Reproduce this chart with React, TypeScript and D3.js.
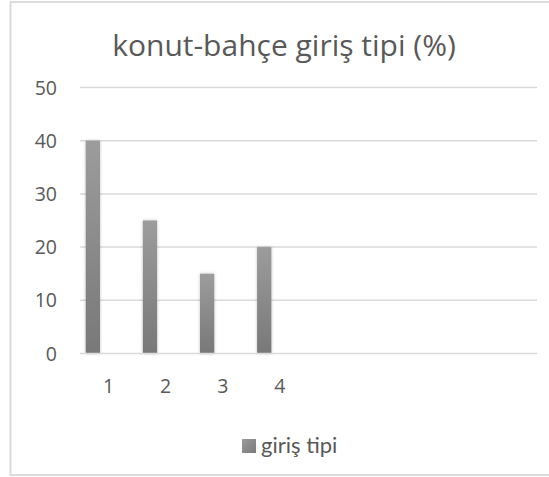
import React, { useEffect, useRef } from 'react';
import * as d3 from 'd3';

// chart data
const categories = ['1', '2', '3', '4', '5', '6', '7', '8'];
const tickLabels = ['1', '2', '3', '4', '', '', '', ''];
const values = [40, 25, 15, 20, null, null, null, null];
const seriesName = 'giriş tipi';
const yTicks = [0, 10, 20, 30, 40, 50];
const title = 'konut-bahçe giriş tipi (%)';

const App = () => {
  const svgRef = useRef<SVGSVGElement>(null);

  useEffect(() => {
    const W = 549;
    const H = 477;
    const plot = { left: 80, right: 537, top: 87.5, bottom: 353.5 };
    const font = "'Open Sans', 'Noto Sans', sans-serif";

    const svg = d3.select(svgRef.current);
    svg.selectAll('*').remove();
    svg.attr('width', W).attr('height', H);

    const defs = svg.append('defs');
    const grad = defs.append('linearGradient')
      .attr('id', 'barGrad')
      .attr('x1', 0).attr('y1', 0).attr('x2', 0).attr('y2', 1);
    grad.append('stop').attr('offset', '0%').attr('stop-color', '#9c9c9c');
    grad.append('stop').attr('offset', '100%').attr('stop-color', '#787878');

    const legGrad = defs.append('linearGradient')
      .attr('id', 'legGrad')
      .attr('x1', 0).attr('y1', 0).attr('x2', 1).attr('y2', 1);
    legGrad.append('stop').attr('offset', '0%').attr('stop-color', '#9c9c9c');
    legGrad.append('stop').attr('offset', '100%').attr('stop-color', '#7a7a7a');

    const shadow = defs.append('filter').attr('id', 'glow')
      .attr('x', '-50%').attr('y', '-10%').attr('width', '200%').attr('height', '120%');
    shadow.append('feDropShadow')
      .attr('dx', 0).attr('dy', 0).attr('stdDeviation', 1.6)
      .attr('flood-color', '#000').attr('flood-opacity', 0.25);

    // chart frame
    svg.append('rect')
      .attr('x', 10.5).attr('y', 2)
      .attr('width', 560).attr('height', 473)
      .attr('fill', '#fff')
      .attr('stroke', '#d9d9d9')
      .attr('stroke-width', 1.8);

    svg.append('text')
      .attr('x', 284).attr('y', 56)
      .attr('text-anchor', 'middle')
      .attr('font-family', font)
      .attr('font-size', 30)
      .attr('fill', '#595959')
      .text(title);

    const x = d3.scaleBand<string>()
      .domain(categories)
      .range([plot.left, plot.right])
      .paddingInner(0)
      .paddingOuter(0);

    const y = d3.scaleLinear()
      .domain([0, 50])
      .range([plot.bottom, plot.top]);

    // gridlines
    svg.append('g')
      .selectAll('line')
      .data(yTicks.filter(t => t > 0))
      .enter().append('line')
      .attr('x1', plot.left).attr('x2', plot.right)
      .attr('y1', d => y(d)).attr('y2', d => y(d))
      .attr('stroke', '#d9d9d9')
      .attr('stroke-width', 1.5);

    // y labels
    svg.append('g')
      .selectAll('text')
      .data(yTicks)
      .enter().append('text')
      .attr('x', 57)
      .attr('y', d => y(d))
      .attr('dy', '0.36em')
      .attr('text-anchor', 'end')
      .attr('font-family', font)
      .attr('font-size', 19.5)
      .attr('fill', '#595959')
      .text(d => d);

    // bars
    const bw = x.bandwidth();
    svg.append('g')
      .selectAll('rect')
      .data(categories.map((c, i) => ({ c, v: values[i] })).filter(d => d.v != null))
      .enter().append('rect')
      .attr('x', d => (x(d.c) as number) + bw * 0.1)
      .attr('width', bw * 0.25)
      .attr('y', d => y(d.v as number))
      .attr('height', d => y(0) - y(d.v as number))
      .attr('fill', 'url(#barGrad)')
      .attr('filter', 'url(#glow)');

    // x axis line
    svg.append('line')
      .attr('x1', plot.left).attr('x2', plot.right)
      .attr('y1', y(0)).attr('y2', y(0))
      .attr('stroke', '#d9d9d9')
      .attr('stroke-width', 1.5);

    // x labels
    svg.append('g')
      .selectAll('text')
      .data(categories)
      .enter().append('text')
      .attr('x', d => (x(d) as number) + bw / 2)
      .attr('y', 393)
      .attr('text-anchor', 'middle')
      .attr('font-family', font)
      .attr('font-size', 19.5)
      .attr('fill', '#595959')
      .text((d, i) => tickLabels[i]);

    // legend
    const lg = svg.append('g').attr('transform', 'translate(242,439)');
    lg.append('rect')
      .attr('width', 14).attr('height', 14)
      .attr('fill', 'url(#legGrad)');
    lg.append('text')
      .attr('x', 19).attr('y', 14)
      .attr('font-family', 'Lato')
      .attr('font-size', 22)
      .attr('fill', '#595959')
      .text(seriesName);
  }, []);

  return (
    <svg ref={svgRef} style={{ position: 'absolute', left: 0, top: 0 }}></svg>
  );
};

export default App;
